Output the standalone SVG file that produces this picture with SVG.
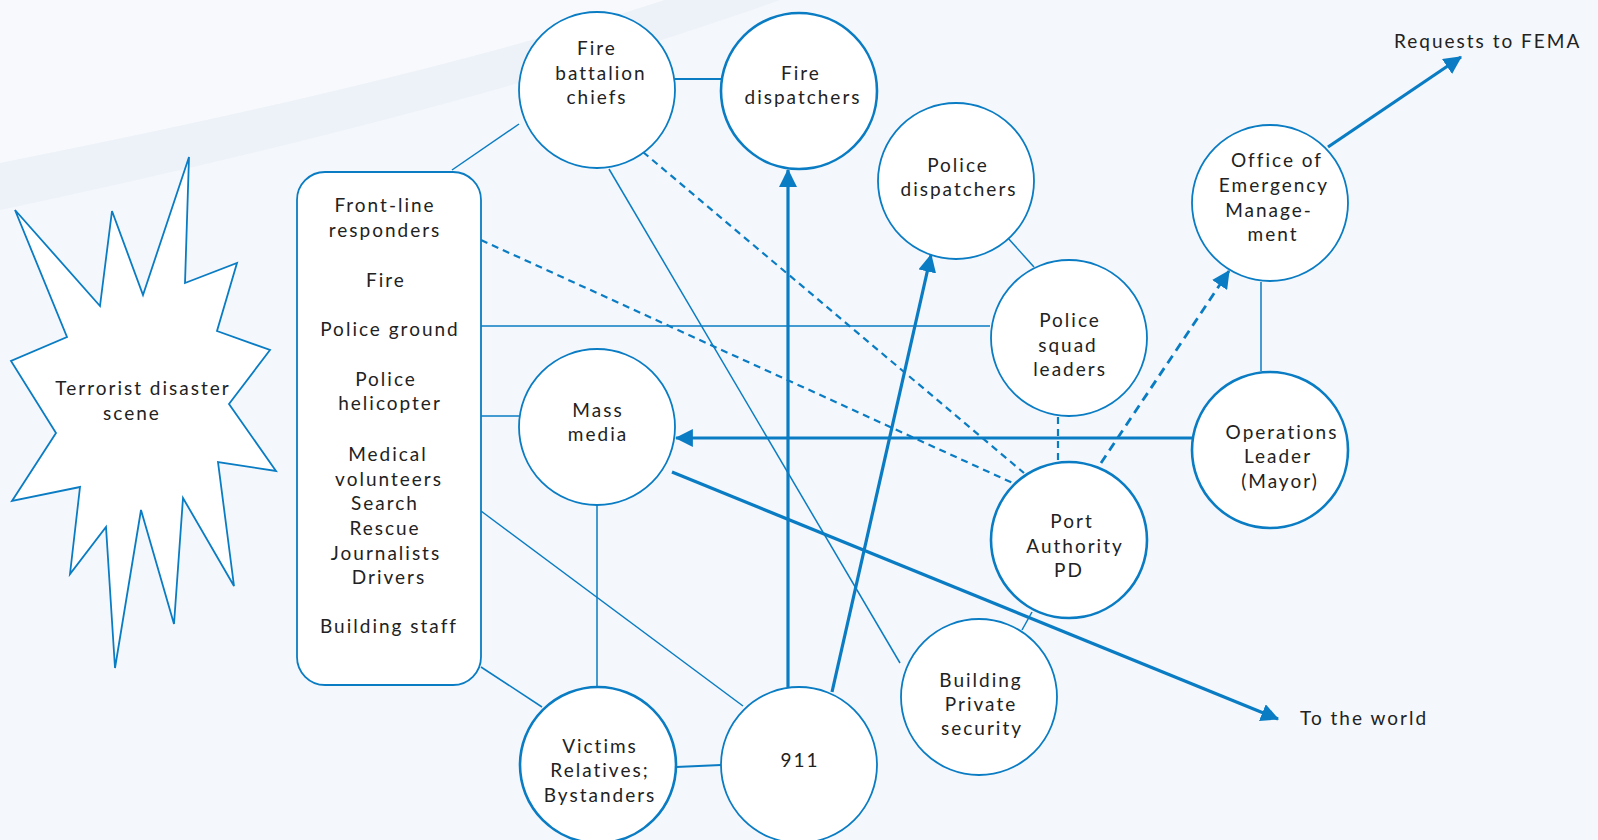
<svg xmlns="http://www.w3.org/2000/svg" width="1598" height="840" viewBox="0 0 1598 840">
  <defs>
    <marker id="arrow" markerUnits="userSpaceOnUse" markerWidth="18" markerHeight="18" viewBox="0 0 16 16" refX="15" refY="8" orient="auto">
      <path d="M0,0 L16,8 L0,16 z" fill="#0a7cc3"/>
    </marker>
    <style>
      .node { fill: #ffffff; stroke: #0a7cc3; stroke-width: 1.8; }
      .bold { stroke-width: 2.6; }
      .thin { fill: none; stroke: #0a7cc3; stroke-width: 1.5; }
      .mid { fill: none; stroke: #0a7cc3; stroke-width: 2; }
      .thick { fill: none; stroke: #0a7cc3; stroke-width: 3.2; }
      .dash { fill: none; stroke: #0a7cc3; stroke-width: 2.2; stroke-dasharray: 7 5; }
      .dashb { fill: none; stroke: #0a7cc3; stroke-width: 2.8; stroke-dasharray: 9 6; }
      text { font-family: Lato, "Open Sans", "DejaVu Sans", sans-serif; font-size: 19px; letter-spacing: 2px; fill: #222222; text-anchor: middle; }
      .lbl { text-anchor: start; }
    </style>
  </defs>

  <!-- background with soft sweeping band -->
  <rect x="0" y="0" width="1598" height="840" fill="#f4f7fb"/>
  <path d="M0,0 L665,0 Q420,80 0,163 z" fill="#f7f9fc"/>
  <path d="M0,163 Q420,80 665,0 L780,0 Q470,110 0,210 z" fill="#edf2f9"/>

  <!-- connectors -->
  <g id="connectors">
    <line class="mid" x1="675" y1="79" x2="721" y2="79"/>
    <line class="thin" x1="519" y1="124" x2="452" y2="170"/>
    <line class="thin" x1="609" y1="169" x2="900" y2="663"/>
    <line class="dash" x1="643" y1="152" x2="1024" y2="473"/>
    <line class="dash" x1="481" y1="240" x2="1015" y2="484"/>
    <line class="thin" x1="481" y1="326" x2="990" y2="326"/>
    <line class="thin" x1="481" y1="416" x2="519" y2="416"/>
    <line class="thin" x1="481" y1="511" x2="743" y2="706"/>
    <line class="thin" x1="481" y1="667" x2="542" y2="707"/>
    <line class="thin" x1="597" y1="506" x2="597" y2="686"/>
    <line class="mid" x1="676" y1="767" x2="721" y2="765"/>
    <line class="thick" x1="788" y1="687" x2="788" y2="170" marker-end="url(#arrow)"/>
    <line class="thick" x1="832" y1="692" x2="931" y2="255" marker-end="url(#arrow)"/>
    <line class="thick" x1="1192" y1="438" x2="676" y2="438" marker-end="url(#arrow)"/>
    <line class="thick" x1="672" y1="472" x2="1278" y2="719" marker-end="url(#arrow)"/>
    <line class="dash" x1="1058" y1="417" x2="1058" y2="461"/>
    <line class="dashb" x1="1101" y1="463" x2="1229" y2="271" marker-end="url(#arrow)"/>
    <line class="thin" x1="1007" y1="237" x2="1034" y2="267"/>
    <line class="thin" x1="1261" y1="282" x2="1261" y2="371"/>
    <line class="thick" x1="1328" y1="147" x2="1461" y2="57" marker-end="url(#arrow)"/>
    <line class="thin" x1="1032" y1="612" x2="1022" y2="630"/>
  </g>

  <!-- blast shape -->
  <g id="disaster-scene">
    <polygon class="node" points="15,210 100,306 112,211 143,295 189,157 185,283 237,263 217,331 270,350 229,404 276,471 218,462 234,586 183,498 174,624 141,510 115,668 106,527 70,574 80,487 12,501 56,433 11,361 67,337"/>
    <text x="143" y="395">Terrorist disaster</text>
    <text x="132" y="420">scene</text>
  </g>

  <g id="front-line">
    <rect class="node" x="297" y="172" width="184" height="513" rx="28" ry="28"/>
    <text x="385" y="212">Front-line</text>
    <text x="385" y="237">responders</text>
    <text x="386" y="287">Fire</text>
    <text x="390" y="336">Police ground</text>
    <text x="386" y="386">Police</text>
    <text x="390" y="410">helicopter</text>
    <text x="388" y="461">Medical</text>
    <text x="389" y="486">volunteers</text>
    <text x="385" y="510">Search</text>
    <text x="385" y="535">Rescue</text>
    <text x="386" y="560">Journalists</text>
    <text x="389" y="584">Drivers</text>
    <text x="389" y="633">Building staff</text>
  </g>

  <g id="fire-battalion">
    <circle class="node" cx="597" cy="90" r="78"/>
    <text x="597" y="55">Fire</text>
    <text x="601" y="80">battalion</text>
    <text x="597" y="104">chiefs</text>
  </g>

  <g id="fire-dispatchers">
    <circle class="node bold" cx="799" cy="91" r="78"/>
    <text x="801" y="80">Fire</text>
    <text x="803" y="104">dispatchers</text>
  </g>

  <g id="police-dispatchers">
    <circle class="node" cx="956" cy="181" r="78"/>
    <text x="958" y="172">Police</text>
    <text x="959" y="196">dispatchers</text>
  </g>

  <g id="police-squad">
    <circle class="node" cx="1069" cy="338" r="78"/>
    <text x="1070" y="327">Police</text>
    <text x="1068" y="352">squad</text>
    <text x="1070" y="376">leaders</text>
  </g>

  <g id="oem">
    <circle class="node" cx="1270" cy="203" r="78"/>
    <text x="1277" y="167">Office of</text>
    <text x="1274" y="192">Emergency</text>
    <text x="1269" y="217">Manage-</text>
    <text x="1273" y="241">ment</text>
  </g>

  <g id="operations-leader">
    <circle class="node bold" cx="1270" cy="450" r="78"/>
    <text x="1282" y="439">Operations</text>
    <text x="1278" y="463">Leader</text>
    <text x="1280" y="488">(Mayor)</text>
  </g>

  <g id="port-authority">
    <circle class="node bold" cx="1069" cy="540" r="78"/>
    <text x="1072" y="528">Port</text>
    <text x="1075" y="553">Authority</text>
    <text x="1069" y="577">PD</text>
  </g>

  <g id="building-security">
    <circle class="node" cx="979" cy="697" r="78"/>
    <text x="981" y="687">Building</text>
    <text x="981" y="711">Private</text>
    <text x="982" y="735">security</text>
  </g>

  <g id="mass-media">
    <circle class="node" cx="597" cy="427" r="78"/>
    <text x="598" y="417">Mass</text>
    <text x="598" y="441">media</text>
  </g>

  <g id="victims">
    <circle class="node bold" cx="598" cy="765" r="78"/>
    <text x="600" y="753">Victims</text>
    <text x="600" y="777">Relatives;</text>
    <text x="600" y="802">Bystanders</text>
  </g>

  <g id="n911">
    <circle class="node" cx="799" cy="765" r="78"/>
    <text x="800" y="767">911</text>
  </g>

  <g id="outputs">
    <text class="lbl" x="1394" y="48">Requests to FEMA</text>
    <text class="lbl" x="1300" y="725">To the world</text>
  </g>
</svg>
